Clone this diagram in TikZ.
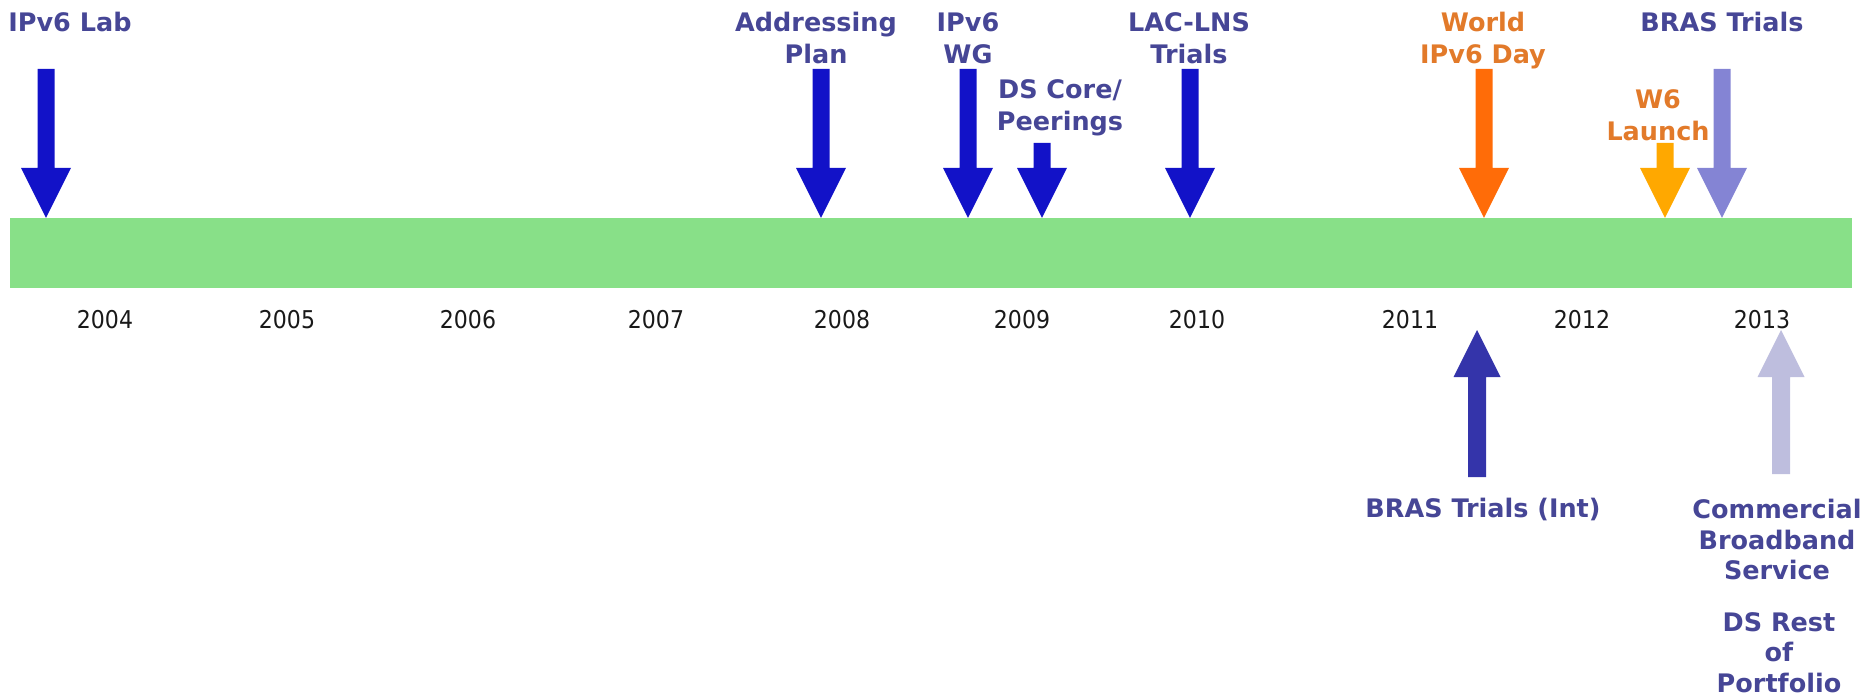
\documentclass[tikz,border=0pt]{standalone}
\usepackage{fontspec}
\setmainfont{DejaVu Sans}
\newfontfamily\yearfont{DejaVu Sans}[FakeStretch=0.9]

\definecolor{barGreen}{RGB}{136,224,136}
\definecolor{evBlue}{RGB}{18,18,200}
\definecolor{evOrange}{RGB}{255,108,8}
\definecolor{evAmber}{RGB}{255,168,0}
\definecolor{evLilac}{RGB}{132,132,212}
\definecolor{evIndigo}{RGB}{52,52,170}
\definecolor{evPale}{RGB}{190,190,222}
\definecolor{txtBlue}{RGB}{70,70,150}
\definecolor{txtOrange}{RGB}{226,122,42}
\definecolor{txtYear}{RGB}{25,25,25}

\tikzset{
  timebar/.style={fill=barGreen, draw=none, inner sep=0pt,
    minimum width=1842pt, minimum height=70pt},
  evlabel/.style={inner sep=0pt, align=center, text=txtBlue,
    font=\fontsize{25.5}{32}\selectfont\bfseries},
  evlabelB/.style={evlabel, font=\fontsize{25.5}{30.5}\selectfont\bfseries},
  hotlabel/.style={evlabel, text=txtOrange},
  year/.style={inner sep=0pt, anchor=base, text=txtYear,
    font=\fontsize{24.5}{28}\selectfont\yearfont},
  % event marker pointing down onto the bar; argument = total length
  pics/downmark/.style={code={
    \fill (-8.5,-#1) -- (8.5,-#1) -- (8.5,-50) -- (25,-50) -- (0,0)
          -- (-25,-50) -- (-8.5,-50) -- cycle;}},
  % event marker pointing up towards the bar; argument = total length
  pics/upmark/.style={code={
    \fill (-9,#1) -- (9,#1) -- (9,47) -- (23.5,47) -- (0,0)
          -- (-23.5,47) -- (-9,47) -- cycle;}},
}

\begin{document}
\begin{tikzpicture}[x=1pt,y=-1pt]
\useasboundingbox (0,0) rectangle (1865,699);

% the time line
\node[timebar] (bar) at (931,253) {};

% years
\node[year] (y2004) at (105,328) {2004};
\node[year] (y2005) at (287,328) {2005};
\node[year] (y2006) at (468,328) {2006};
\node[year] (y2007) at (656,328) {2007};
\node[year] (y2008) at (842,328) {2008};
\node[year] (y2009) at (1022,328) {2009};
\node[year] (y2010) at (1197,328) {2010};
\node[year] (y2011) at (1410,328) {2011};
\node[year] (y2012) at (1582,328) {2012};
\node[year] (y2013) at (1762,328) {2013};

% milestones above the bar
\pic[fill=evBlue]   at (46,0 |- bar.north)   {downmark=149};
\pic[fill=evBlue]   at (821,0 |- bar.north)  {downmark=149};
\pic[fill=evBlue]   at (968,0 |- bar.north)  {downmark=149};
\pic[fill=evBlue]   at (1042,0 |- bar.north) {downmark=75};
\pic[fill=evBlue]   at (1190,0 |- bar.north) {downmark=149};
\pic[fill=evOrange] at (1484,0 |- bar.north) {downmark=149};
\pic[fill=evAmber]  at (1665,0 |- bar.north) {downmark=75};
\pic[fill=evLilac]  at (1722,0 |- bar.north) {downmark=149};

\node[evlabel, anchor=north]  (lab)   at (70,12)   {IPv6 Lab};
\node[evlabel, anchor=north]  (addr)  at (816,12)  {Addressing\\Plan};
\node[evlabel, anchor=north]  (wg)    at (968,12)  {IPv6\\WG};
\node[evlabel, anchor=north]  (core)  at (1060,79) {DS Core/\\Peerings};
\node[evlabel, anchor=north]  (lac)   at (1189,12) {LAC-LNS\\Trials};
\node[hotlabel, anchor=north] (world) at (1483,12) {World\\IPv6 Day};
\node[hotlabel, anchor=north] (w6)    at (1658,89) {W6\\Launch};
\node[evlabel, anchor=north]  (bras)  at (1722,12) {BRAS Trials};

% milestones below the bar
\pic[fill=evIndigo] at (1477,330) {upmark=147};
\pic[fill=evPale]   at (1781,330) {upmark=144};

\node[evlabelB, anchor=north] (brasint) at (1483,498) {BRAS Trials (Int)};
\node[evlabelB, anchor=north] (comm)    at (1777,499) {Commercial\\Broadband\\Service};
\node[evlabelB, anchor=north] (rest)    at (1779,612) {DS Rest\\of\\Portfolio};
\end{tikzpicture}
\end{document}
